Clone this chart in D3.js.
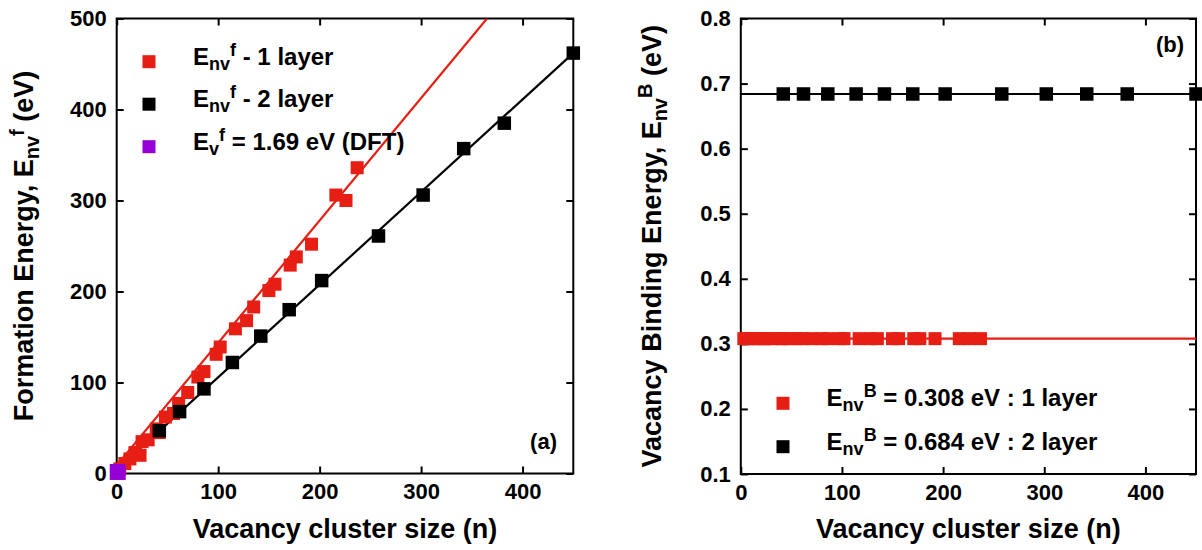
<!DOCTYPE html>
<html>
<head>
<meta charset="utf-8">
<script src="https://cdnjs.cloudflare.com/ajax/libs/d3/7.8.5/d3.min.js"></script>
<style>
    body { margin: 0; background: #fff; }
    svg text { font-family: "Liberation Sans", Arial, sans-serif; font-weight: bold; fill: #000; }
</style>
</head>
<body>
<div id="chart"></div>
<script>
// panel (a): formation energy vs cluster size
const nLayer1 = [3, 8, 13, 18, 23, 25, 31, 39, 42, 48, 56, 61, 70, 80, 86, 98, 102, 117, 128, 135, 150, 156, 171, 177, 192, 216, 226, 237];
const efLayer1 = [5, 11, 16, 23, 20, 35, 37, 49, 45, 62, 66, 77, 89, 106, 112, 131, 139, 159, 168, 183, 201, 208, 229, 238, 252, 306, 300, 336];
const nLayer2 = [42, 62, 86, 114, 142, 170, 202, 258, 302, 342, 382, 450];
const efLayer2 = [47, 68, 93, 122, 151, 180, 212, 261, 306, 357, 385, 462];
const nDft = [1];
const efDft = [1.69];
// straight fits, end points
const fitLayer1 = [[0, 9], [365, 500]];
const fitLayer2 = [[0, 4], [450, 462]];

// panel (b): binding energy vs cluster size
const ebLayer1 = [0.308, 0.308, 0.308, 0.308, 0.308, 0.308, 0.308, 0.308, 0.308, 0.308, 0.308, 0.308, 0.308, 0.308,
                  0.308, 0.308, 0.308, 0.308, 0.308, 0.308, 0.308, 0.308, 0.308, 0.308, 0.308, 0.308, 0.308, 0.308];
const ebLayer2 = [0.684, 0.684, 0.684, 0.684, 0.684, 0.684, 0.684, 0.684, 0.684, 0.684, 0.684, 0.684];
const fitBind1 = [[0, 0.308], [450, 0.308]];
const fitBind2 = [[0, 0.684], [450, 0.684]];

const xTicks = [0, 100, 200, 300, 400];
const yTicksA = [0, 100, 200, 300, 400, 500];
const yTicksB = [0.1, 0.2, 0.3, 0.4, 0.5, 0.6, 0.7, 0.8];

const RED = '#e61e14';
const BLACK = '#000';
const PURPLE = '#9400d6';
const MARK = 13;

const svg = d3.select('#chart').append('svg')
    .attr('width', 1202)
    .attr('height', 550);

function zip (xs, ys) {
    return xs.map(function (x, i) { return [x, ys[i]]; });
}

function drawPanel (opt) {
    let x = d3.scaleLinear().domain([0, 450]).range(opt.xRange);
    let y = d3.scaleLinear().domain(opt.yDomain).range(opt.yRange);
    let g = svg.append('g');

    let bottom = d3.axisBottom(x).tickValues(xTicks).tickSizeInner(-7).tickSizeOuter(0).tickPadding(10);
    let top = d3.axisTop(x).tickValues(xTicks).tickSizeInner(-7).tickSizeOuter(0).tickFormat('');
    let left = d3.axisLeft(y).tickValues(opt.yTicks).tickSizeInner(-7).tickSizeOuter(0).tickPadding(10)
        .tickFormat(opt.yFormat);
    let right = d3.axisRight(y).tickValues(opt.yTicks).tickSizeInner(-7).tickSizeOuter(0).tickFormat('');

    [[bottom, 'translate(0,' + opt.yRange[0] + ')'],
     [top, 'translate(0,' + opt.yRange[1] + ')'],
     [left, 'translate(' + opt.xRange[0] + ',0)'],
     [right, 'translate(' + opt.xRange[1] + ',0)']].forEach(function (a) {
        let ax = g.append('g').attr('transform', a[1]).call(a[0]);
        ax.select('.domain').remove();
        ax.selectAll('line').attr('stroke', '#000').attr('stroke-width', 2);
        ax.selectAll('text').attr('font-size', 22).attr('font-family', null);
    });

    g.append('rect')
        .attr('x', opt.xRange[0])
        .attr('y', opt.yRange[1])
        .attr('width', opt.xRange[1] - opt.xRange[0])
        .attr('height', opt.yRange[0] - opt.yRange[1])
        .attr('fill', 'none')
        .attr('stroke', '#000')
        .attr('stroke-width', 2);

    // clip the fit lines at the frame
    let clipId = 'clip' + opt.name;
    svg.append('clipPath').attr('id', clipId).append('rect')
        .attr('x', opt.xRange[0])
        .attr('y', opt.yRange[1])
        .attr('width', opt.xRange[1] - opt.xRange[0])
        .attr('height', opt.yRange[0] - opt.yRange[1]);

    let line = d3.line().x(function (d) { return x(d[0]); }).y(function (d) { return y(d[1]); });
    opt.fits.forEach(function (f) {
        g.append('path')
            .attr('d', line(f.pts))
            .attr('clip-path', 'url(#' + clipId + ')')
            .attr('fill', 'none')
            .attr('stroke', f.color)
            .attr('stroke-width', 2.2);
    });

    opt.series.forEach(function (s) {
        let size = s.size || MARK;
        g.append('g').selectAll('rect')
            .data(zip(s.xs, s.ys))
            .enter()
            .append('rect')
            .attr('x', function (d) { return x(d[0]) - size / 2; })
            .attr('y', function (d) { return y(d[1]) - size / 2; })
            .attr('width', size)
            .attr('height', size)
            .attr('fill', s.color);
    });

    // axis titles
    g.append('text')
        .attr('x', (opt.xRange[0] + opt.xRange[1]) / 2)
        .attr('y', 538)
        .attr('text-anchor', 'middle')
        .attr('font-size', 27)
        .text('Vacancy cluster size (n)');

    let yt = g.append('text')
        .attr('transform', 'translate(' + opt.yTitleX + ',' + (opt.yRange[0] + opt.yRange[1]) / 2 + ') rotate(-90)')
        .attr('text-anchor', 'middle')
        .attr('font-size', 27);
    yt.append('tspan').text(opt.yTitle[0] + 'E');
    yt.append('tspan').attr('dy', 6).attr('font-size', 20).text('nv');
    yt.append('tspan').attr('dy', -15).attr('font-size', 20).text(opt.yTitle[1]);
    yt.append('tspan').attr('dy', 9).text(' (eV)');

    g.append('text')
        .attr('x', opt.tag[1])
        .attr('y', opt.tag[2])
        .attr('text-anchor', 'end')
        .attr('font-size', 22)
        .text(opt.tag[0]);

    // legend
    opt.legend.forEach(function (l, i) {
        let ly = opt.legendY[0] + i * opt.legendY[1];
        g.append('rect')
            .attr('x', opt.legendX[0] - MARK / 2)
            .attr('y', ly - MARK / 2)
            .attr('width', MARK)
            .attr('height', MARK)
            .attr('fill', l.color);
        let t = g.append('text')
            .attr('x', opt.legendX[1])
            .attr('y', ly + 3)
            .attr('font-size', 24);
        t.append('tspan').text('E');
        t.append('tspan').attr('dy', 5).attr('font-size', 18).text(l.sub);
        t.append('tspan').attr('dy', -14).attr('font-size', 18).text(l.sup);
        t.append('tspan').attr('dy', 9).text(l.rest);
    });
}

drawPanel({
    name: 'a',
    xRange: [116.7, 573.3],
    yRange: [473.5, 18.5],
    yDomain: [0, 500],
    yTicks: yTicksA,
    yFormat: d3.format('d'),
    yTitle: ['Formation Energy, ', 'f'],
    yTitleX: 33,
    tag: ['(a)', 557, 449],
    fits: [
        { pts: fitLayer1, color: RED },
        { pts: fitLayer2, color: BLACK }
    ],
    series: [
        { xs: nLayer1, ys: efLayer1, color: RED },
        { xs: nLayer2, ys: efLayer2, color: BLACK, size: 13.5 },
        { xs: nDft, ys: efDft, color: PURPLE, size: 16 }
    ],
    legendX: [149, 193],
    legendY: [61.7, 42.5],
    legend: [
        { color: RED, sub: 'nv', sup: 'f', rest: ' - 1 layer' },
        { color: BLACK, sub: 'nv', sup: 'f', rest: ' - 2 layer' },
        { color: PURPLE, sub: 'v', sup: 'f', rest: ' = 1.69 eV (DFT)' }
    ]
});

drawPanel({
    name: 'b',
    xRange: [740.8, 1196],
    yRange: [474, 18.5],
    yDomain: [0.1, 0.8],
    yTicks: yTicksB,
    yFormat: d3.format('.1f'),
    yTitle: ['Vacancy Binding Energy, ', 'B'],
    yTitleX: 661,
    tag: ['(b)', 1184, 52],
    fits: [
        { pts: fitBind1, color: RED },
        { pts: fitBind2, color: BLACK }
    ],
    series: [
        { xs: nLayer1, ys: ebLayer1, color: RED },
        { xs: nLayer2, ys: ebLayer2, color: BLACK, size: 13.5 }
    ],
    legendX: [783, 826.6],
    legendY: [403.3, 43.4],
    legend: [
        { color: RED, sub: 'nv', sup: 'B', rest: ' = 0.308 eV : 1 layer' },
        { color: BLACK, sub: 'nv', sup: 'B', rest: ' = 0.684 eV : 2 layer' }
    ]
});
</script>
</body>
</html>
